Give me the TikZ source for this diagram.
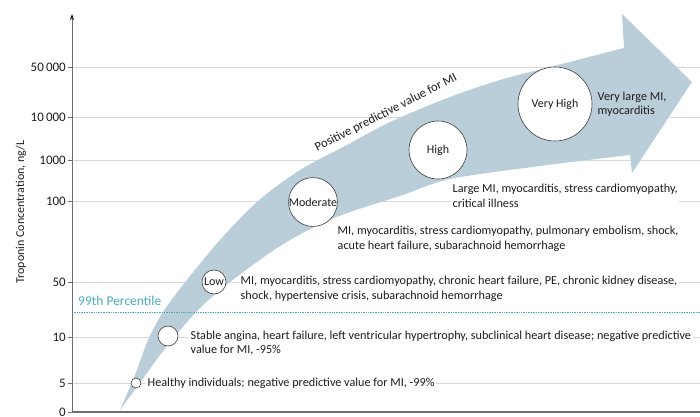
\documentclass[tikz,border=0pt]{standalone}
\usepackage{fontspec}
\setmainfont{Carlito}
\usetikzlibrary{arrows.meta}
\definecolor{bandblue}{RGB}{186,206,217}
\definecolor{gridgray}{RGB}{216,216,216}
\definecolor{axisgray}{RGB}{110,110,110}
\definecolor{ringgray}{RGB}{60,60,60}
\definecolor{pcteal}{RGB}{72,172,190}
\definecolor{inkblack}{RGB}{30,28,28}

\begin{document}
\begin{tikzpicture}[x=1pt,y=1pt,
  gridline/.style={draw=gridgray, line width=0.6pt},
  ticklabel/.style={anchor=east, inner sep=0pt, text=inkblack, font=\fontsize{13}{15}\selectfont},
  level/.style={circle, draw=ringgray, fill=white, line width=0.6pt, inner sep=0pt, text=inkblack, font=\fontsize{12}{14}\selectfont},
  note/.style={anchor=west, align=left, fill=white, inner sep=1.5pt, text=inkblack, font=\fontsize{12.2}{14.5}\selectfont}]
\useasboundingbox (0,0) rectangle (700,416);

% grid and ticks
\foreach \yv/\lab in {349/{50\,000}, 299/{10\,000}, 256/1000, 215/100, 134/50, 79/10, 33/5, 4/0} {
  \draw[gridline] (72,\yv) -- (700,\yv);
  \draw[axisgray, line width=0.6pt] (68,\yv) -- (72,\yv);
  \node[ticklabel] at (66,\yv) {\lab};
}

% the big curved arrow
\fill[bandblue] plot[smooth] coordinates {(120,6) (135,41) (148,76) (163,104) (186,135) (220,176)
    (258,215) (300,246) (345,270) (390,294) (450,319) (500,336) (550,349) (624,368)}
  -- (622,402) -- (692,334) -- (632,243)
  -- plot[smooth] coordinates {(630,261) (540,250) (450,237) (400,220) (353,205) (320,192)
    (277,168) (230,134) (200,108) (176,81) (160,61) (142,36) (120,6)} -- cycle;

% 99th percentile
\draw[pcteal, line width=0.8pt, dash pattern=on 0.8pt off 0.9pt] (72,104) -- (700,104);
\node[anchor=west, inner sep=0pt, text=pcteal, font=\fontsize{13.5}{15}\selectfont] (pct) at (78,115) {99th Percentile};

% axes
\draw[axisgray, line width=1.2pt] (72,4) -- (700,4);
\draw[axisgray, line width=0.8pt, -{Stealth[length=6pt, width=4pt, inkblack]}] (72,4) -- (72,402);
\node[rotate=90, text=inkblack, font=\fontsize{12}{14}\selectfont] (ylab) at (21,204) {Troponin Concentration, ng/L};

\node[rotate=27, text=inkblack, font=\fontsize{12.6}{14}\selectfont] (ppv) at (386,303) {Positive predictive value for MI};

% levels
\node[level, minimum size=10pt] (healthy) at (136,33) {};
\node[level, minimum size=20pt] (stable) at (168,80) {};
\node[level, minimum size=24pt] (low) at (214,134) {Low};
\node[level, minimum size=48pt] (moderate) at (313,214) {Moderate};
\node[level, minimum size=58pt] (high) at (438,266) {High};
\node[level, minimum size=74pt] (veryhigh) at (555,312) {Very High};

% conditions
\node[note] (healthytxt) at (146,33) {Healthy individuals; negative predictive value for MI, -99\%};
\node[note] (stabletxt) at (189,73) {Stable angina, heart failure, left ventricular hypertrophy, subclinical heart disease; negative predictive\\value for MI, -95\%};
\node[note] (lowtxt) at (239,127) {MI, myocarditis, stress cardiomyopathy, chronic heart failure, PE, chronic kidney disease,\\shock, hypertensive crisis, subarachnoid hemorrhage};
\node[note, fill=none] (moderatetxt) at (336,177) {MI, myocarditis, stress cardiomyopathy, pulmonary embolism, shock,\\acute heart failure, subarachnoid hemorrhage};
\node[note] (hightxt) at (451,220) {Large MI, myocarditis, stress cardiomyopathy,\\critical illness};
\node[note, fill=none] (veryhightxt) at (596,312) {Very large MI,\\myocarditis};
\end{tikzpicture}
\end{document}
